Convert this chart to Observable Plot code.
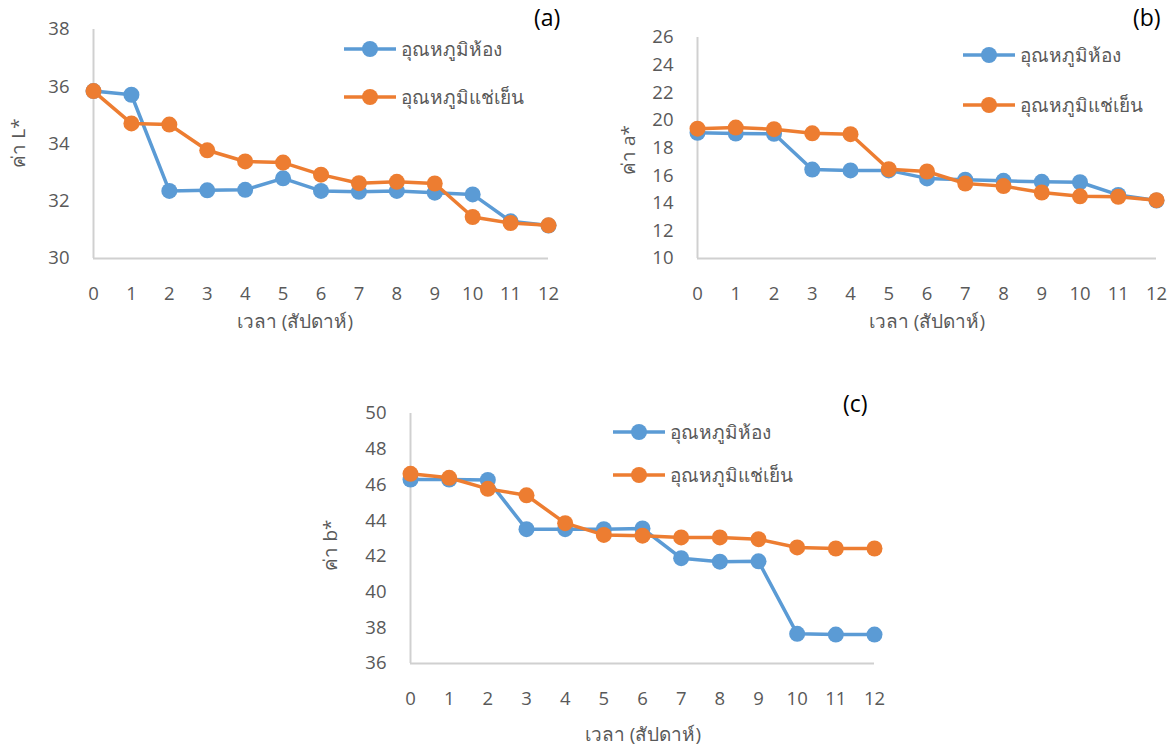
<!DOCTYPE html>
<html><head><meta charset="utf-8">
<script src="https://cdn.jsdelivr.net/npm/d3@7"></script>
<script src="https://cdn.jsdelivr.net/npm/@observablehq/plot@0.6"></script>
<style>
body{margin:0;background:#fff;font-family:"Open Sans","Noto Sans",sans-serif;}
#root{position:relative;width:1173px;height:746px;overflow:hidden;background:#fff;}
.panel{position:absolute;}
.lbl{position:absolute;color:#595959;font-size:19px;white-space:nowrap;line-height:1;}
.tag{position:absolute;color:#000;font-size:23px;white-space:nowrap;line-height:1;}
.leg{position:absolute;display:flex;align-items:center;color:#595959;font-size:19px;white-space:nowrap;line-height:1;}
.leg svg{margin-right:4px;}
</style>
</head><body>
<div id="root"></div>
<script>
const weeks = [0,1,2,3,4,5,6,7,8,9,10,11,12];
const seriesNames = ["อุณหภูมิห้อง", "อุณหภูมิแช่เย็น"];
const seriesColors = ["#5B9BD5", "#ED7D31"];
const xLabel = "เวลา (สัปดาห์)";

const L_room = [35.85,35.72,32.36,32.38,32.40,32.80,32.36,32.33,32.36,32.30,32.24,31.30,31.15];
const L_cold = [35.85,34.72,34.68,33.78,33.39,33.35,32.93,32.63,32.68,32.62,31.45,31.24,31.16];
const a_room = [19.10,19.05,19.03,16.44,16.38,16.38,15.80,15.70,15.62,15.55,15.52,14.60,14.20];
const a_cold = [19.40,19.48,19.36,19.06,19.00,16.46,16.30,15.43,15.24,14.78,14.50,14.47,14.22];
const b_room = [46.30,46.30,46.28,43.52,43.52,43.52,43.56,41.90,41.70,41.72,37.66,37.62,37.62];
const b_cold = [46.62,46.40,45.78,45.42,43.86,43.20,43.16,43.06,43.06,42.96,42.50,42.44,42.44];

const ticksL = [30,32,34,36,38];
const ticksA = [10,12,14,16,18,20,22,24,26];
const ticksB = [36,38,40,42,44,46,48,50];

const root = document.getElementById("root");

function panel(cfg) {
  const rows = [];
  cfg.series.forEach((vals, si) => vals.forEach((v, i) => rows.push({week: weeks[i], value: v, series: seriesNames[si]})));
  const ymin = d3.min(cfg.ticks), ymax = d3.max(cfg.ticks);
  const marks = [
    Plot.ruleX([0], {y1: ymin, y2: ymax, stroke: "#d0d0d0", strokeWidth: 2}),
    Plot.ruleY([ymin], {x1: 0, x2: 12, stroke: "#d0d0d0", strokeWidth: 2})
  ];
  seriesNames.forEach((name) => {
    const d = rows.filter(r => r.series === name);
    marks.push(Plot.line(d, {x: "week", y: "value", stroke: "series", strokeWidth: 3.5}));
    marks.push(Plot.dot(d, {x: "week", y: "value", fill: "series", r: 8}));
  });
  const svg = Plot.plot({
    width: cfg.w, height: cfg.h,
    marginLeft: cfg.ml, marginRight: cfg.mr, marginTop: cfg.mt, marginBottom: cfg.mb,
    style: {fontSize: "18.5px", color: "#595959", fontFamily: "'Open Sans','Noto Sans',sans-serif", background: "transparent", overflow: "visible"},
    x: {domain: [0, 12], ticks: weeks, tickSize: 0, tickPadding: cfg.xpad, label: null},
    y: {domain: [ymin, ymax], ticks: cfg.ticks, tickSize: 0, tickPadding: cfg.ypad, label: null},
    color: {domain: seriesNames, range: seriesColors},
    marks
  });
  const div = document.createElement("div");
  div.className = "panel";
  div.style.left = cfg.left + "px"; div.style.top = cfg.top + "px";
  div.appendChild(svg);
  root.appendChild(div);

  const xl = document.createElement("div");
  xl.className = "lbl"; xl.textContent = xLabel;
  xl.style.left = cfg.xlx + "px"; xl.style.top = cfg.xly + "px"; xl.style.transform = "translate(-50%,-50%)";
  root.appendChild(xl);
  const yl = document.createElement("div");
  yl.className = "lbl"; yl.textContent = cfg.ylabel;
  yl.style.left = cfg.ylx + "px"; yl.style.top = cfg.yly + "px"; yl.style.transform = "translate(-50%,-50%) rotate(-90deg)";
  root.appendChild(yl);
  const tg = document.createElement("div");
  tg.className = "tag"; tg.textContent = cfg.tag;
  tg.style.left = cfg.tagx + "px"; tg.style.top = cfg.tagy + "px";
  root.appendChild(tg);
  seriesNames.forEach((name, i) => {
    const lg = document.createElement("div");
    lg.className = "leg";
    lg.style.left = cfg.legx + "px"; lg.style.top = (cfg.legy[i] - 12) + "px";
    lg.innerHTML = `<svg width="54" height="24"><line x1="1" x2="53" y1="12" y2="12" stroke="${seriesColors[i]}" stroke-width="3.5"/><circle cx="27" cy="12" r="8" fill="${seriesColors[i]}"/></svg><span>${name}</span>`;
    root.appendChild(lg);
  });
}

panel({left: 0, top: 0, w: 580, h: 330, ml: 93, mr: 32, mt: 29, mb: 72, xpad: 28, ypad: 24,
  series: [L_room, L_cold], ticks: ticksL, ylabel: "ค่า L*",
  xlx: 295, xly: 321, ylx: 18, yly: 143, tag: "(a)", tagx: 534, tagy: 6, legx: 343, legy: [49, 97]});
panel({left: 590, top: 0, w: 583, h: 330, ml: 107, mr: 17, mt: 37, mb: 72, xpad: 28, ypad: 24,
  series: [a_room, a_cold], ticks: ticksA, ylabel: "ค่า a*",
  xlx: 927, xly: 321, ylx: 628, yly: 150, tag: "(b)", tagx: 1133, tagy: 6, legx: 962, legy: [55, 105]});
panel({left: 300, top: 390, w: 600, h: 356, ml: 110, mr: 26, mt: 23, mb: 83, xpad: 28, ypad: 24,
  series: [b_room, b_cold], ticks: ticksB, ylabel: "ค่า b*",
  xlx: 643, xly: 734, ylx: 330, yly: 545, tag: "(c)", tagx: 843, tagy: 392, legx: 612, legy: [432, 475]});
</script>
</body></html>
